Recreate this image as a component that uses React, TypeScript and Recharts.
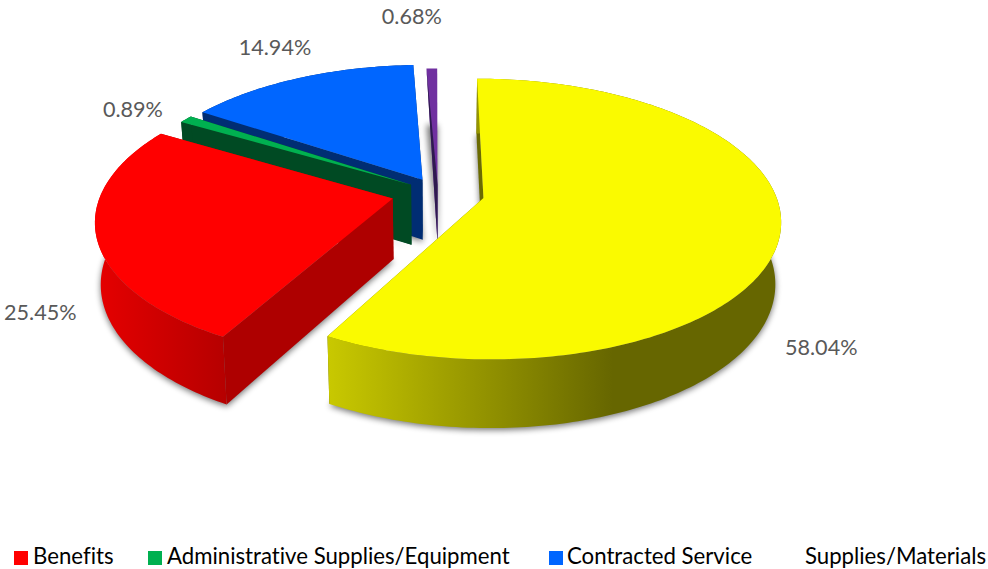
import React from "react";
import { PieChart, Pie, Legend } from "recharts";

// Slices run counter-clockwise from the top so the nearest ones paint last.
const categories = [
  "Supplies/Materials",
  "Contracted Service",
  "Administrative Supplies/Equipment",
  "Benefits",
  "Salaries",
];
const shares = [0.68, 14.94, 0.89, 25.45, 58.04];
const legendNames = ["Benefits", "Administrative Supplies/Equipment", "Contracted Service", "Supplies/Materials"];

const pieData = categories.map((name, i) => ({ name, value: shares[i] }));

const FONT = "Lato, 'Open Sans', sans-serif";
const TILT = 0.465;
const PERSPECTIVE = 0.149;
const DEPTH = 60.5;
const FLOOR_SCALE = 0.983;

const explode: Record<string, number> = {
  Salaries: 0.16,
  Benefits: 0.16,
  "Administrative Supplies/Equipment": 0.11,
  "Contracted Service": 0.11,
  "Supplies/Materials": 0.06,
};
const topColor: Record<string, string> = {
  Salaries: "#fafa00",
  Benefits: "#ff0000",
  "Administrative Supplies/Equipment": "#00b050",
  "Contracted Service": "#0066ff",
  "Supplies/Materials": "#7030a0",
};
const cutColor: Record<string, string> = {
  Salaries: "#6b6b00",
  Benefits: "#ae0000",
  "Administrative Supplies/Equipment": "#004a23",
  "Contracted Service": "#002d73",
  "Supplies/Materials": "#2e1a4f",
};
const swatchColor: Record<string, string | null> = {
  Benefits: "#ff0000",
  "Administrative Supplies/Equipment": "#00b050",
  "Contracted Service": "#0066ff",
  "Supplies/Materials": null,
};
const legendSwatchX = [14, 148, 549, 786];
const legendTextX = [33, 167, 567, 805];
const labelNudge: Record<string, [number, number]> = {
  Salaries: [41, 114],
  Benefits: [-56, 76],
  "Administrative Supplies/Equipment": [-53, -10],
  "Contracted Service": [-24, -31],
  "Supplies/Materials": [-20, -53],
};

type Pt = [number, number];
const RAD = Math.PI / 180;

// Perspective projection of a point on the pie's top or bottom plane.
function project(cx: number, cy: number, r: number, u: number, v: number, floor: boolean): Pt {
  const w = 1 + PERSPECTIVE * v;
  const s = floor ? FLOOR_SCALE : 1;
  return [cx + (s * r * u) / w, cy - (s * r * TILT * v) / w + (floor ? DEPTH / w : 0)];
}

function offsetFor(name: string, midDeg: number): [number, number] {
  const e = explode[name] ?? 0;
  return [e * Math.cos(midDeg * RAD), e * Math.sin(midDeg * RAD)];
}

const toPath = (pts: Pt[]) =>
  "M" + pts.map((p) => `${p[0].toFixed(2)},${p[1].toFixed(2)}`).join("L") + "Z";

function Wedge3D(props: any) {
  const { cx, cy, outerRadius: r, startAngle, endAngle, name } = props;
  const a0 = Math.min(startAngle, endAngle);
  const a1 = Math.max(startAngle, endAngle);
  const [u0, v0] = offsetFor(name, (a0 + a1) / 2);
  const steps = Math.max(2, Math.ceil(a1 - a0));
  const rim = (floor: boolean) => {
    const out: Pt[] = [];
    for (let i = 0; i <= steps; i++) {
      const a = (a0 + ((a1 - a0) * i) / steps) * RAD;
      out.push(project(cx, cy, r, u0 + Math.cos(a), v0 + Math.sin(a), floor));
    }
    return out;
  };
  const topRim = rim(false);
  const floorRim = rim(true);
  const apex = project(cx, cy, r, u0, v0, false);
  const floorApex = project(cx, cy, r, u0, v0, true);
  const shadow = (
    <path
      d={toPath([...floorRim, floorApex])}
      fill="#000"
      opacity={0.55}
      transform="translate(0,2)"
      style={{ filter: "blur(3px)" }}
    />
  );

  // The thinnest slice shows as a tapering strip with its dark cut along the left.
  if (a1 - a0 < 3) {
    const rightRim = topRim[0];
    const leftRim = topRim[topRim.length - 1];
    return (
      <g>
        {shadow}
        <path d={toPath([leftRim, rightRim, floorApex])} fill={topColor[name]} />
        <path d={toPath([leftRim, apex, floorApex])} fill={cutColor[name]} />
      </g>
    );
  }

  const gradId = `rim-${name.replace(/[^A-Za-z]/g, "")}`;
  let rimFill = cutColor[name];
  let defs = null;
  if (name === "Salaries") {
    rimFill = `url(#${gradId})`;
    defs = (
      <linearGradient id={gradId} gradientUnits="userSpaceOnUse" x1={327} x2={781} y1={0} y2={0}>
        <stop offset="0" stopColor="#c9c900" />
        <stop offset="0.63" stopColor="#666600" />
        <stop offset="1" stopColor="#666600" />
      </linearGradient>
    );
  } else if (name === "Benefits") {
    rimFill = `url(#${gradId})`;
    defs = (
      <linearGradient id={gradId} gradientUnits="userSpaceOnUse" x1={100} x2={228} y1={0} y2={0}>
        <stop offset="0" stopColor="#e40000" />
        <stop offset="1" stopColor="#b50000" />
      </linearGradient>
    );
  }

  const startCut = [topRim[0], apex, floorApex, floorRim[0]];
  const endCut = [topRim[topRim.length - 1], apex, floorApex, floorRim[floorRim.length - 1]];
  const rimBand = [...topRim, ...[...floorRim].reverse()];

  return (
    <g>
      {defs && <defs>{defs}</defs>}
      {shadow}
      <path d={toPath(startCut)} fill={cutColor[name]} />
      <path d={toPath(endCut)} fill={cutColor[name]} />
      <path d={toPath(rimBand)} fill={rimFill} />
      <path d={toPath([...topRim, apex])} fill={topColor[name]} />
    </g>
  );
}

function PercentLabel(props: any) {
  const { cx, cy, outerRadius: r, midAngle, name, value } = props;
  const [u0, v0] = offsetFor(name, midAngle);
  const a = midAngle * RAD;
  const [x, y] = project(cx, cy, r, u0 + Math.cos(a), v0 + Math.sin(a), false);
  const [dx, dy] = labelNudge[name];
  return (
    <text
      x={x + dx}
      y={y + dy}
      textAnchor="middle"
      dominantBaseline="central"
      fontFamily={FONT}
      fontSize={21.6}
      fill="#595959"
    >
      {`${Number(value).toFixed(2)}%`}
    </text>
  );
}

function LegendRow() {
  return (
    <div
      style={{
        position: "relative",
        width: 988,
        height: 22,
        fontFamily: FONT,
        fontSize: 22.2,
        fontVariantLigatures: "none",
        color: "#000",
      }}
    >
      {legendNames.map((n, i) => (
        <React.Fragment key={n}>
          {swatchColor[n] && (
            <span
              style={{
                position: "absolute",
                left: legendSwatchX[i],
                top: 6.5,
                width: 14,
                height: 14,
                background: swatchColor[n] as string,
              }}
            />
          )}
          <span style={{ position: "absolute", left: legendTextX[i], top: 0, lineHeight: "22px", whiteSpace: "nowrap" }}>
            {n}
          </span>
        </React.Fragment>
      ))}
    </div>
  );
}

export default function App() {
  return (
    <div style={{ position: "absolute", left: 0, top: 0, width: 988, height: 569, background: "#fff" }}>
      <PieChart width={988} height={569} margin={{ top: 0, right: 0, bottom: 0, left: 0 }}>
        <Pie
          data={pieData}
          dataKey="value"
          nameKey="name"
          cx={438}
          cy={192.6}
          outerRadius={291.5}
          startAngle={90.1}
          endAngle={450.1}
          stroke="none"
          shape={Wedge3D}
          label={PercentLabel}
          labelLine={false}
          isAnimationActive={false}
        />
        <Legend
          content={LegendRow}
          wrapperStyle={{ position: "absolute", left: 0, top: 544.5, bottom: "auto", width: 988 }}
        />
      </PieChart>
    </div>
  );
}
